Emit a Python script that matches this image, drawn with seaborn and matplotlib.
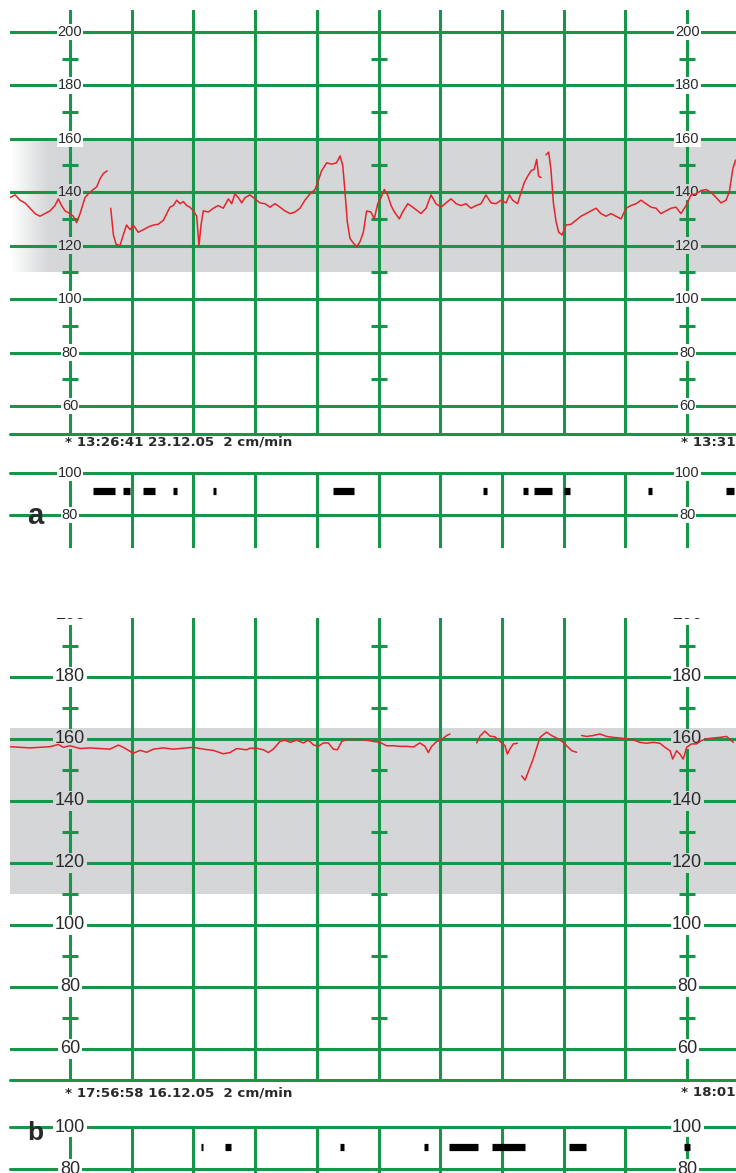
import numpy as np
import pandas as pd
import matplotlib
matplotlib.use("Agg")
import matplotlib.pyplot as plt
from matplotlib.colors import LinearSegmentedColormap
import seaborn as sns

# --- data: time in seconds after the printed time stamp, FHR in bpm (nan = signal loss) ---
a_t = [-29.2, -26.7, -24.3, -21.9, -19.4, -17.0, -14.6, -12.2, -9.7, -7.3, -5.7, -4.1, -2.4, 0.0,
       1.6, 3.2, 4.9, 7.3, 8.9, 11.3, 13.0, 14.6, 16.2, 18.1, 19.0,
       19.8, 21.1, 22.4, 24.3, 25.9, 27.5, 29.2, 30.8, 33.2, 35.7, 38.1, 40.5, 42.9, 45.4, 47.0,
       48.6, 50.2, 51.9, 53.5, 55.1, 56.7, 58.3, 60.0, 61.6, 62.7, 63.7, 64.8, 67.3, 69.7, 72.1,
       74.5, 77.0, 78.6, 80.2, 81.8, 83.5, 85.1, 87.5, 89.9, 92.4, 94.8, 97.2, 99.7, 102.1, 104.5,
       107.0, 109.4, 111.8, 114.2, 116.7, 119.1, 120.7, 122.3, 124.8, 127.2, 129.6, 131.3, 132.6,
       133.7, 134.8, 136.1, 137.7, 139.4, 141.0, 142.6, 144.2,
       146.3, 147.9, 149.6, 151.2, 152.8, 154.4, 156.1, 157.7, 160.1, 161.7, 164.2, 166.6, 169.0,
       170.6, 173.1, 175.5, 177.9, 180.4, 182.8, 185.2, 187.7, 190.1, 192.5, 194.9, 197.4, 199.8,
       202.2, 204.7, 207.1, 209.5, 212.0, 213.6, 215.2, 217.6, 219.3, 220.9, 222.5, 224.1, 225.7,
       226.9, 227.8, 229.0, 230.0,
       231.4, 232.7, 233.8, 235.0, 236.3, 237.6, 239.2, 241.1, 243.6, 246.0, 248.4, 250.9, 253.3,
       255.7, 258.1, 260.6, 263.0, 265.4, 267.9, 270.3, 272.7, 275.2, 277.6, 280.0, 282.5, 284.9,
       287.3, 289.7, 292.2, 294.6, 297.0, 299.5, 301.9, 304.3, 306.8, 309.2, 311.6, 314.1, 316.5,
       318.9, 320.5, 322.2, 323.5]
a_bpm = [138, 139, 137, 136, 134, 132, 131, 132, 133, 135, 137.5, 135, 133, 132,
         131, 128.6, 132, 138, 139.4, 141, 142, 145, 147, 148, np.nan,
         134, 124, 120.5, 120, 124, 127.7, 126, 127.7, 125, 126, 127, 127.7, 128, 129.5, 132,
         134.4, 135, 137, 135.7, 136.5, 135, 134.4, 133, 131, 120, 127.7, 133, 132.6, 134, 135,
         134, 137.5, 135.7, 139.4, 138, 136, 138, 139, 137.5, 136, 135.7, 134.4, 135.7, 134.4, 133,
         132, 132.6, 134, 137, 139.4, 141, 144.3, 148, 151, 150.5, 151, 153.6, 150,
         140, 129, 122.7, 121, 119.6, 121.5, 125, 133,
         132.6, 130, 135.7, 138, 141, 139, 135, 132.6, 130, 132.6, 135.7, 134.4, 133,
         132, 134, 139, 135.7, 134.4, 136, 137.5, 135.7, 135, 135.7, 134, 135, 135.7,
         139, 136, 135.7, 137, 136, 139, 137, 135.7, 140, 143.7, 146, 148, 148.6,
         152.3, 146, 145.5, np.nan,
         154, 155, 148.6, 136, 129, 125, 124, 127.7, 128, 129.5, 131, 132, 133,
         134, 132, 131, 132, 131, 130, 134, 135, 135.7, 137, 135.7, 134.4, 134,
         132, 133, 134, 134.4, 132, 135, 139, 139.4, 140.6, 141, 140, 138, 136,
         137, 140, 148.6, 152]

b_t = [-29.2, -24.3, -19.4, -14.6, -9.7, -5.7, -3.2, 0.0, 4.9, 9.7, 14.6, 19.4, 23.5, 25.9,
       29.2, 30.8, 34.0, 37.3, 40.5, 45.4, 50.2, 55.1, 60.0, 64.8, 69.7, 74.5, 77.8, 81.0, 85.9,
       87.5, 90.7, 94.0, 96.4, 98.8, 102.1, 104.5, 107.0, 110.2, 113.4, 115.9, 118.3, 120.7, 123.2,
       125.6, 128.0, 130.0, 132.1, 134.5, 137.7, 141.0, 144.2, 147.5, 150.7, 153.9, 157.2, 160.4,
       163.7, 166.9, 170.1, 172.6, 174.2, 175.8, 178.3, 180.7, 183.1, 184.7, 190.0,
       197.7, 199.3, 201.7, 204.2, 206.6, 209.0, 211.5, 212.6, 213.9, 215.5, 217.5, 218.5,
       219.6, 221.2, 224.9, 228.5, 231.7, 234.1, 237.4, 239.8, 242.2, 243.9, 246.3, 247.5,
       248.7, 251.2, 254.4, 257.6, 260.9, 264.1, 267.4, 270.6, 273.8, 277.1, 280.3, 283.6, 286.8,
       289.2, 291.7, 293.0, 294.9, 296.5, 298.1, 299.8, 302.2, 304.6, 307.1, 309.5, 312.7, 316.0,
       319.2, 322.5]
b_bpm = [157.5, 157.3, 157.1, 157.3, 157.5, 158.2, 157.3, 157.8, 156.9, 157.1, 156.9, 156.7, 158, 157.3,
         156, 155.4, 156.3, 155.7, 156.7, 157.1, 156.7, 157, 157.3, 156.7, 156.3, 155.2, 155.6, 156.9, 156.5,
         157.0, 157.0, 156.5, 155.6, 156.7, 159.2, 159.6, 158.9, 159.6, 158.7, 159.6, 158.1, 157.6, 158.7,
         158.7, 156.7, 156.5, 159.2, 159.8, 159.8, 159.8, 159.6, 159.2, 158.9, 157.8, 157.8, 157.6,
         157.6, 157.4, 158.7, 157.6, 155.6, 157.6, 159.2, 159.8, 161.1, 161.6, np.nan,
         158.7, 160.9, 162.5, 160.9, 160.7, 159.2, 157.8, 155.1, 156.8, 158.4, 158.6, np.nan,
         148.1, 146.7, 153.0, 160.5, 162.2, 161.1, 160.0, 158.9, 157.3, 156.2, 155.7, np.nan,
         161.1, 160.8, 161.1, 161.6, 160.8, 160.5, 160.3, 160.0, 159.7, 158.9, 158.6, 158.9, 158.6,
         157.3, 156.2, 153.5, 156.2, 155.1, 153.5, 157.3, 158.4, 158.4, 159.5, 160.0, 160.3, 160.5,
         160.8, 158.9]

# fetal movement marks (start / end, s)
a_mov_start = [11.0, 25.8, 35.5, 50.1, 69.5, 127.9, 200.8, 220.2, 225.6, 240.2, 281.0, 318.9]
a_mov_end = [21.9, 29.2, 41.3, 52.0, 71.0, 138.1, 202.7, 222.7, 234.3, 243.1, 282.9, 322.8]
b_mov_start = [63.7, 75.4, 131.3, 172.1, 184.3, 205.2, 242.6, 298.5]
b_mov_end = [64.8, 78.1, 133.2, 174.0, 198.3, 221.2, 250.9, 301.4]

fhr_labels = [200, 180, 160, 140, 120, 100, 80, 60]
fhr_minor = [190, 170, 150, 130, 110, 90, 70]
toco_labels = [100, 80]
a_stamp = ["* 13:26:41 23.12.05  2 cm/min", "* 13:31"]
b_stamp = ["* 17:56:58 16.12.05  2 cm/min", "* 18:01"]

# --- style ---
sns.set_theme(style="white")
plt.rcParams["font.family"] = ["Liberation Sans", "DejaVu Sans"]
GREEN = "#17964a"
RED = "#e8232b"
GRAY = "#d4d6d8"
TXT = "#2a2a2a"
W, H = 736, 1173
XL = ((10 - 70) / 2.057, (736 - 70) / 2.057)
grid_t = list(range(0, 301, 30))

fig = plt.figure(figsize=(W / 100, H / 100), dpi=100)


def add_ax(top, bottom):
    return fig.add_axes([10 / W, 1 - bottom / H, (W - 10) / W, (bottom - top) / H])


def trace_frame(t, bpm):
    df = pd.DataFrame({"t": t, "bpm": bpm})
    df["seg"] = df["bpm"].isna().cumsum()
    return df.dropna()


def draw_fhr(ax, t, bpm, ylim, band, fs):
    ax.set_axis_off()
    ax.axhspan(band[0], band[1], color=GRAY, lw=0, zorder=0)
    for v in grid_t:
        ax.axvline(v, color=GREEN, lw=2.2, zorder=1)
    for y in fhr_labels:
        ax.axhline(y, color=GREEN, lw=2.2, zorder=1)
    ax.axhline(ylim[0], color=GREEN, lw=2.2, zorder=1, clip_on=False)
    for tx in (0, 150, 300):
        ax.plot([tx] * len(fhr_minor), fhr_minor, ls="none", marker="_", ms=11, mew=2.2,
                color=GREEN, zorder=1)
    for tx in (0, 300):
        for y in fhr_labels:
            bg = GRAY if band[0] < y < band[1] else "white"
            ax.text(tx, y, str(y), ha="center", va="center", fontsize=fs, color=TXT,
                    bbox=dict(boxstyle="square,pad=0.08", fc=bg, ec="none"),
                    clip_on=True, zorder=2)
    sns.lineplot(data=trace_frame(t, bpm), x="t", y="bpm", units="seg", estimator=None,
                 sort=False, color=RED, lw=1.1, ax=ax, legend=False, zorder=3)
    ax.set_xlim(XL)
    ax.set_ylim(ylim)


def draw_toco(ax, starts, ends, ylim, mark_y, fs):
    ax.set_axis_off()
    for v in grid_t:
        ax.axvline(v, color=GREEN, lw=2.2, zorder=1)
    for y in toco_labels:
        ax.axhline(y, color=GREEN, lw=2.2, zorder=1, clip_on=False)
    for tx in (0, 300):
        for y in toco_labels:
            ax.text(tx, y, str(y), ha="center", va="center", fontsize=fs, color=TXT,
                    bbox=dict(boxstyle="square,pad=0.08", fc="white", ec="none"), zorder=2)
    ax.hlines([mark_y] * len(starts), starts, ends, color="black", lw=5.2,
              capstyle="butt", zorder=3)
    ax.set_xlim(XL)
    ax.set_ylim(ylim)


# panel a
ax_a = add_ax(10, 434)
draw_fhr(ax_a, a_t, a_bpm, (49.5, 208.2), (110, 159.5), 10.5)
fade = LinearSegmentedColormap.from_list("fade", ["white", GRAY])
ax_a.imshow(np.linspace(0, 1, 64)[None, :], cmap=fade, aspect="auto", zorder=0.5,
            extent=(XL[0], (50 - 70) / 2.057, 110, 159.5))
ax_a.set_xlim(XL)
ax_a.set_ylim(49.5, 208.2)
toco_a = add_ax(473, 548)
draw_toco(toco_a, a_mov_start, a_mov_end, (64.3, 100), 91.4, 10.5)

# panel b
ax_b = add_ax(618, 1080)
draw_fhr(ax_b, b_t, b_bpm, (50, 199), (110, 163.5), 13)
toco_b = add_ax(1127, 1173)
draw_toco(toco_b, b_mov_start, b_mov_end, (78.1, 100), 90.5, 13)

# time stamps and panel letters
stamp_kw = dict(fontsize=9.6, fontweight="bold", color=TXT, va="center", family="DejaVu Sans")
fig.text(65 / W, 1 - 442 / H, a_stamp[0], **stamp_kw)
fig.text(681 / W, 1 - 442 / H, a_stamp[1], **stamp_kw)
fig.text(65 / W, 1 - 1093 / H, b_stamp[0], **stamp_kw)
fig.text(681 / W, 1 - 1093 / H, b_stamp[1], **stamp_kw)
fig.text(35 / W, 1 - 516 / H, "a", fontsize=21, fontweight="bold", color=TXT, ha="center", va="center")
fig.text(35 / W, 1 - 1133 / H, "b", fontsize=19, fontweight="bold", color=TXT, ha="center", va="center")

fig.savefig("out.png", dpi=100, facecolor="white")
